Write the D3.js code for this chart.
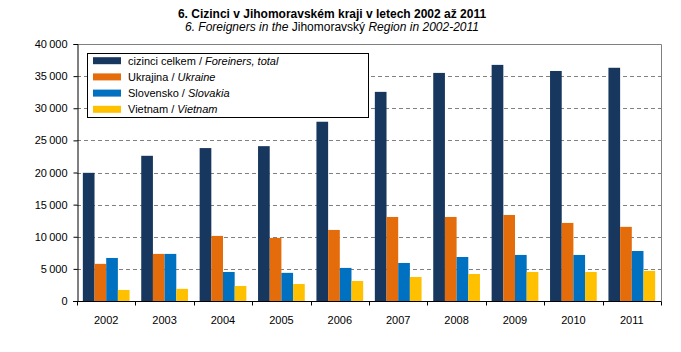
<!DOCTYPE html>
<html>
<head>
<meta charset="utf-8">
<script src="https://cdn.jsdelivr.net/npm/d3@7"></script>
<style>
html,body{margin:0;padding:0;background:#fff;}
svg{display:block;font-family:Arial,"Liberation Sans",sans-serif;}
</style>
</head>
<body>
<svg id="chart" width="681" height="352"></svg>
<script>
const years = ["2002","2003","2004","2005","2006","2007","2008","2009","2010","2011"];
const total    = [19950,22600,23800,24100,27900,32550,35500,36750,35800,36300];
const ukraine  = [5780,7330,10130,9820,11060,13080,13080,13390,12150,11540];
const slovakia = [6700,7330,4520,4380,5150,5920,6850,7170,7170,7780];
const vietnam  = [1720,1890,2340,2650,3110,3740,4200,4520,4520,4680];
const seriesNames = [
  ["cizinci celkem / ", "Foreiners, total"],
  ["Ukrajina / ", "Ukraine"],
  ["Slovensko / ", "Slovakia"],
  ["Vietnam / ", "Vietnam"]
];
const colors = ["#17375E","#E46C0A","#0070C0","#FFC000"];
const yTicks = [0,5000,10000,15000,20000,25000,30000,35000,40000];

const series = [total, ukraine, slovakia, vietnam];
const svg = d3.select("#chart");
const L = 77, R = 661, T = 44, B = 301;

const x = d3.scaleBand().domain(years).range([L, R]).padding(0);
const xi = d3.scaleBand().domain(d3.range(4)).range([0, x.bandwidth()]).paddingOuter(0.5).paddingInner(0);
const y = d3.scaleLinear().domain([0, 40000]).range([B, T]);

// gridlines
svg.append("g").selectAll("line").data(yTicks.filter(t => t > 0 && t < 40000)).join("line")
  .attr("x1", L).attr("x2", R)
  .attr("y1", d => Math.round(y(d)) + 0.5).attr("y2", d => Math.round(y(d)) + 0.5)
  .attr("stroke", "#808080").attr("stroke-width", 1).attr("stroke-dasharray", "4,3");

// plot border top & right
svg.append("path")
  .attr("d", `M${L},${T+0.5}H${R+0.5}V${B}`)
  .attr("fill", "none").attr("stroke", "#808080").attr("stroke-width", 1);

// bars
const g = svg.append("g");
series.forEach((vals, si) => {
  g.append("g").selectAll("rect").data(vals).join("rect")
    .attr("x", (d, i) => x(years[i]) + xi(si))
    .attr("width", xi.bandwidth())
    .attr("y", d => y(d))
    .attr("height", d => y(0) - y(d))
    .attr("fill", colors[si]);
});

// y axis
const yAxis = d3.axisLeft(y).tickValues(yTicks).tickSize(4).tickPadding(6)
  .tickFormat(d => d3.format(",")(d).replace(/,/g, "\u2009"));
const ya = svg.append("g").attr("transform", `translate(${L+0.5},0)`).call(yAxis);
ya.select(".domain").attr("stroke", "#000");
ya.selectAll(".tick line").attr("stroke", "#000");
ya.selectAll(".tick text").attr("font-size", 11).attr("fill", "#000")
  .attr("font-family", "Arial, 'Liberation Sans', sans-serif");

// x axis
const xa = svg.append("g").attr("transform", `translate(0,${B+0.5})`);
xa.append("line").attr("x1", L - 4).attr("x2", R + 0.5).attr("stroke", "#000");
xa.selectAll(".xt").data(years.concat(["end"])).join("line")
  .attr("x1", (d, i) => Math.round(L + i * x.bandwidth()) + 0.5)
  .attr("x2", (d, i) => Math.round(L + i * x.bandwidth()) + 0.5)
  .attr("y1", 0).attr("y2", 4).attr("stroke", "#000");
xa.selectAll("text").data(years).join("text")
  .attr("x", d => x(d) + x.bandwidth() / 2)
  .attr("y", 22)
  .attr("text-anchor", "middle").attr("font-size", 11).attr("fill", "#000")
  .text(d => d);

// legend
const lg = svg.append("g");
lg.append("rect").attr("x", 87.5).attr("y", 53.5).attr("width", 281).attr("height", 64)
  .attr("fill", "#fff").attr("stroke", "#000").attr("stroke-width", 1);
seriesNames.forEach((nm, i) => {
  const cy = 60.7 + i * 16.2;
  lg.append("rect").attr("x", 93).attr("y", cy - 3.5).attr("width", 28).attr("height", 7).attr("fill", colors[i]);
  const t = lg.append("text").attr("x", 128).attr("y", cy + 4).attr("font-size", 11).attr("fill", "#000");
  t.append("tspan").text(nm[0]);
  t.append("tspan").attr("font-style", "italic").text(nm[1]);
});

// titles
svg.append("text").attr("x", 332).attr("y", 18).attr("text-anchor", "middle")
  .attr("font-size", 12).attr("font-weight", "bold").attr("fill", "#000")
  .text("6. Cizinci v Jihomoravském kraji v letech 2002 až 2011");
const st = svg.append("text").attr("x", 332).attr("y", 31).attr("text-anchor", "middle")
  .attr("font-size", 12).attr("fill", "#000");
st.append("tspan").attr("font-style", "italic").text("6. Foreigners in the ");
st.append("tspan").text("Jihomoravský");
st.append("tspan").attr("font-style", "italic").text(" Region in 2002-2011");
</script>
</body>
</html>
